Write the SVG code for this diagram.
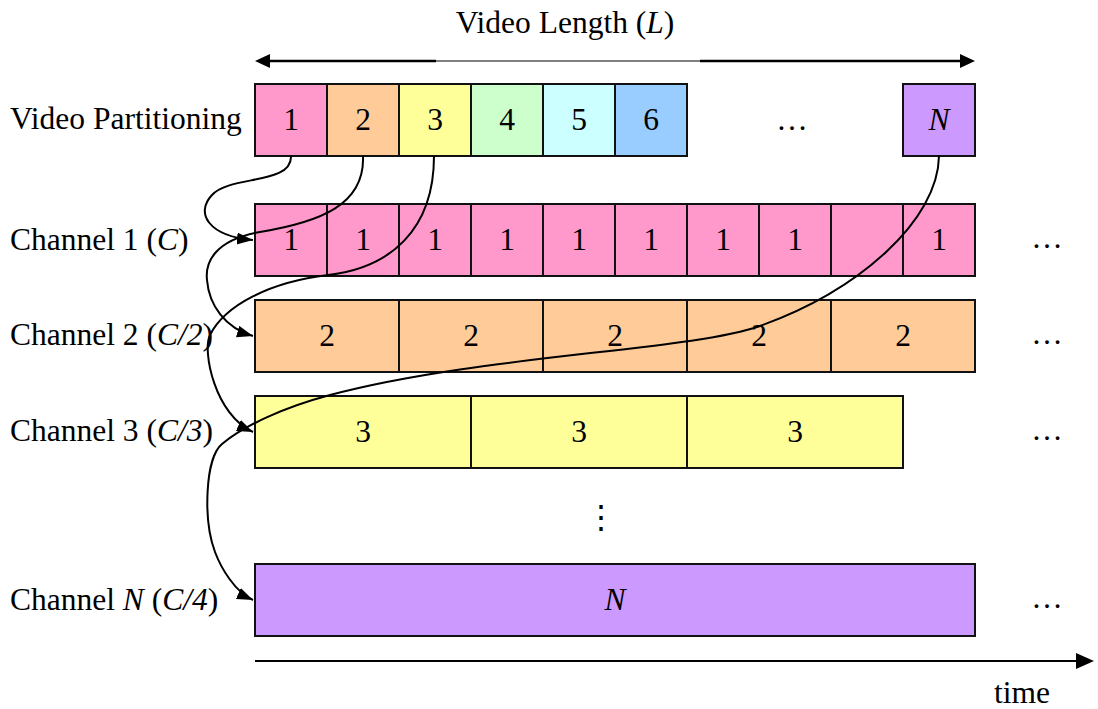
<svg xmlns="http://www.w3.org/2000/svg" width="1098" height="709" viewBox="0 0 1098 709" font-family="'Liberation Serif','Times New Roman','DejaVu Serif',serif">
<style>
text{font-family:"Liberation Serif","Times New Roman","DejaVu Serif",serif;font-size:31.5px;fill:#000}
.c{text-anchor:middle}
.i{font-style:italic}
.b{stroke:#111;stroke-width:2}
.p{fill:#FF99CC}.o{fill:#FFCC99}.y{fill:#FFFF99}.g{fill:#CCFFCC}.cy{fill:#CCFFFF}.bl{fill:#99CCFF}.v{fill:#CC99FF}
.cur{fill:none;stroke:#000;stroke-width:2}
</style>
<defs>
<marker id="ah" markerUnits="userSpaceOnUse" markerWidth="18" markerHeight="14" refX="16" refY="6" orient="auto">
<path d="M0,0 L16,6 L0,12 z" fill="#000"/>
</marker>
</defs>

<g id="video-length">
<line x1="262" y1="61" x2="968" y2="61" stroke="#000" stroke-width="1.2"/>
<line x1="262" y1="61" x2="436" y2="61" stroke="#000" stroke-width="2.5"/>
<line x1="700" y1="61" x2="968" y2="61" stroke="#000" stroke-width="2.5"/>
<polygon points="255,61 270,54 270,68" fill="#000"/>
<polygon points="975,61 960,54 960,68" fill="#000"/>
<text x="565" y="33" class="c">Video Length (<tspan class="i">L</tspan>)</text>
</g>

<g id="video-partitioning">
<text x="10" y="129">Video Partitioning</text>
<rect x="255" y="84" width="72" height="72" class="b p"/>
<rect x="327" y="84" width="72" height="72" class="b o"/>
<rect x="399" y="84" width="72" height="72" class="b y"/>
<rect x="471" y="84" width="72" height="72" class="b g"/>
<rect x="543" y="84" width="72" height="72" class="b cy"/>
<rect x="615" y="84" width="72" height="72" class="b bl"/>
<rect x="903" y="84" width="72" height="72" class="b v"/>
<text x="291" y="130" class="c">1</text>
<text x="363" y="130" class="c">2</text>
<text x="435" y="130" class="c">3</text>
<text x="507" y="130" class="c">4</text>
<text x="579" y="130" class="c">5</text>
<text x="651" y="130" class="c">6</text>
<text x="792" y="130" class="c">…</text>
<text x="939" y="130" class="c i">N</text>
</g>

<g id="channel-1">
<text x="10" y="250">Channel 1 (<tspan class="i">C</tspan>)</text>
<rect x="255" y="204" width="72" height="72" class="b p"/>
<rect x="327" y="204" width="72" height="72" class="b p"/>
<rect x="399" y="204" width="72" height="72" class="b p"/>
<rect x="471" y="204" width="72" height="72" class="b p"/>
<rect x="543" y="204" width="72" height="72" class="b p"/>
<rect x="615" y="204" width="72" height="72" class="b p"/>
<rect x="687" y="204" width="72" height="72" class="b p"/>
<rect x="759" y="204" width="72" height="72" class="b p"/>
<rect x="831" y="204" width="72" height="72" class="b p"/>
<rect x="903" y="204" width="72" height="72" class="b p"/>
<text x="291" y="250" class="c">1</text>
<text x="363" y="250" class="c">1</text>
<text x="435" y="250" class="c">1</text>
<text x="507" y="250" class="c">1</text>
<text x="579" y="250" class="c">1</text>
<text x="651" y="250" class="c">1</text>
<text x="723" y="250" class="c">1</text>
<text x="795" y="250" class="c">1</text>
<text x="939" y="250" class="c">1</text>
<text x="1047" y="248" class="c">…</text>
</g>

<g id="channel-2">
<text x="10" y="345">Channel 2 (<tspan class="i">C/2</tspan>)</text>
<rect x="255" y="300" width="144" height="72" class="b o"/>
<rect x="399" y="300" width="144" height="72" class="b o"/>
<rect x="543" y="300" width="144" height="72" class="b o"/>
<rect x="687" y="300" width="144" height="72" class="b o"/>
<rect x="831" y="300" width="144" height="72" class="b o"/>
<text x="327" y="346" class="c">2</text>
<text x="471" y="346" class="c">2</text>
<text x="615" y="346" class="c">2</text>
<text x="759" y="346" class="c">2</text>
<text x="903" y="346" class="c">2</text>
<text x="1047" y="344" class="c">…</text>
</g>

<g id="channel-3">
<text x="10" y="441">Channel 3 (<tspan class="i">C/3</tspan>)</text>
<rect x="255" y="396" width="216" height="72" class="b y"/>
<rect x="471" y="396" width="216" height="72" class="b y"/>
<rect x="687" y="396" width="216" height="72" class="b y"/>
<text x="363" y="442" class="c">3</text>
<text x="579" y="442" class="c">3</text>
<text x="795" y="442" class="c">3</text>
<text x="1047" y="440" class="c">…</text>
</g>

<g id="vdots">
<text x="601" y="528" class="c">⋮</text>
</g>

<g id="channel-n">
<text x="10" y="610">Channel <tspan class="i">N</tspan> (<tspan class="i">C/4</tspan>)</text>
<rect x="255" y="564" width="720" height="72" class="b v"/>
<text x="615" y="610" class="c i">N</text>
<text x="1047" y="608" class="c">…</text>
</g>

<g id="time-axis">
<line x1="255" y1="661" x2="1080" y2="661" stroke="#000" stroke-width="2"/>
<polygon points="1094,661 1076,653 1076,669" fill="#000"/>
<text x="1022" y="703" class="c">time</text>
</g>

<g id="connectors">
<path class="cur" marker-end="url(#ah)" d="M291,156 C292,185 230,175 212,195 C195,213 208,236 253,240"/>
<path class="cur" marker-end="url(#ah)" d="M363,156 C365,205 320,222 260,232 C215,240 205,262 207,280 C209,305 225,328 253,336"/>
<path class="cur" marker-end="url(#ah)" d="M434,156 C434,230 390,268 328,275 C270,282 225,305 210,335 C202,351 215,415 253,432"/>
<path class="cur" marker-end="url(#ah)" d="M939,156 C938,220 860,290 760,326 C690,351 480,355 330,395 C285,407 245,425 222,444 C205,458 203,520 215,552 C221,568 235,592 253,600"/>
</g>
</svg>
